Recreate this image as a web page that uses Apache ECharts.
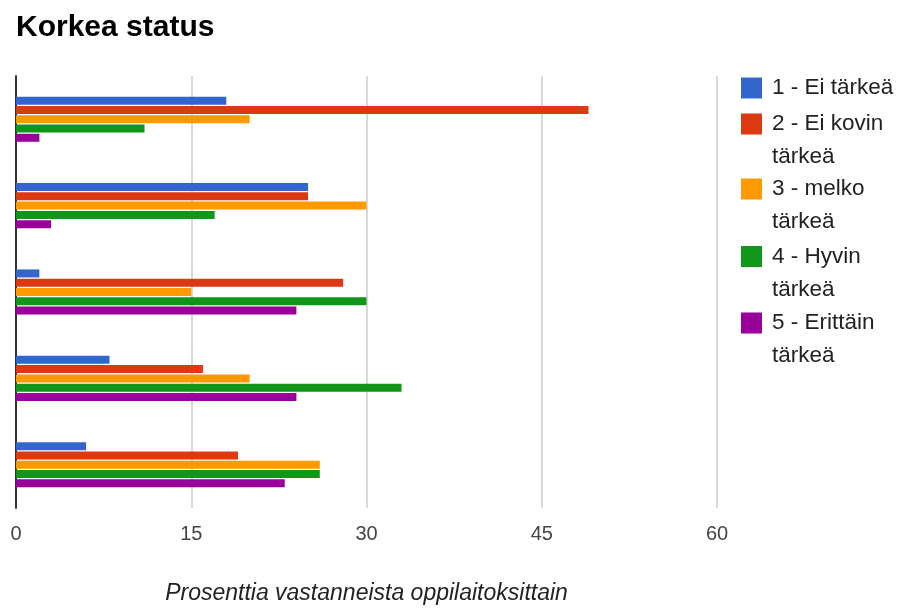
<!DOCTYPE html>
<html><head><meta charset="utf-8">
<script src="https://cdn.jsdelivr.net/npm/echarts@6/dist/echarts.min.js"></script>
<style>html,body{margin:0;padding:0;background:#fff}#c{width:900px;height:608px}</style>
</head><body><div id="c"></div>
<script>
const categories = ['A', 'B', 'C', 'D', 'E'];
const seriesNames = ['1 - Ei tärkeä', '2 - Ei kovin tärkeä', '3 - melko tärkeä', '4 - Hyvin tärkeä', '5 - Erittäin tärkeä'];
const legendLabels = ['1 - Ei tärkeä', '2 - Ei kovin\ntärkeä', '3 - melko\ntärkeä', '4 - Hyvin\ntärkeä', '5 - Erittäin\ntärkeä'];
const s1 = [18, 25, 2, 8, 6];
const s2 = [49, 25, 28, 16, 19];
const s3 = [20, 30, 15, 20, 26];
const s4 = [11, 17, 30, 33, 26];
const s5 = [2, 3, 24, 24, 23];
const xTicks = [0, 15, 30, 45, 60];
const colors = ['#3366cc', '#dc3912', '#ff9900', '#109618', '#990099'];
const values = [s1, s2, s3, s4, s5];
const FONT = '"Liberation Sans", Arial, sans-serif';

// square at top of a taller icon box so it lines up with the first text line
const tallIcon = 'path://M0,0H21V21H0Z M0,54L0.01,54';
const legendTops = [71.5, 107.5, 172.5, 240, 306.5];
const legends = seriesNames.map((n, i) => {
  const two = legendLabels[i].indexOf('\n') >= 0;
  return {
    data: [n],
    orient: 'vertical',
    left: 741,
    top: legendTops[i],
    padding: 0,
    icon: two ? tallIcon : 'rect',
    itemWidth: 21,
    itemHeight: two ? 54 : 21,
    formatter: () => legendLabels[i],
    textStyle: {
      fontFamily: FONT, fontSize: 22.5, color: '#222', lineHeight: 33,
      padding: [0, 0, 0, 5]
    }
  };
});

const chart = echarts.init(document.getElementById('c'), null, {renderer: 'canvas'});
chart.setOption({
  animation: false,
  color: colors,
  title: {
    text: 'Korkea status', left: 11, top: 8,
    textStyle: {fontFamily: FONT, fontSize: 30, fontWeight: 'bold', color: '#000'}
  },
  legend: legends,
  grid: {left: 16, right: 183, top: 76, bottom: 100, containLabel: false, outerBoundsMode: 'none'},
  xAxis: {
    type: 'value', min: xTicks[0], max: xTicks[xTicks.length - 1], interval: 15,
    axisLine: {show: false}, axisTick: {show: false},
    splitLine: {show: true, lineStyle: {color: '#cccccc', width: 1.5}},
    axisLabel: {fontFamily: FONT, fontSize: 20, color: '#444', margin: 16},
    name: 'Prosenttia vastanneista oppilaitoksittain',
    nameLocation: 'middle', nameGap: 74,
    nameTextStyle: {fontFamily: FONT, fontSize: 23, fontStyle: 'italic', color: '#222'}
  },
  yAxis: {
    type: 'category', data: categories, inverse: true,
    axisLine: {show: true, lineStyle: {color: '#333', width: 2}},
    axisTick: {show: false}, axisLabel: {show: false}, splitLine: {show: false}
  },
  series: seriesNames.map((n, i) => ({
    name: n, type: 'bar', data: values[i], barWidth: 8, barGap: '16%',
    itemStyle: {color: colors[i]}
  }))
});
</script></body></html>
